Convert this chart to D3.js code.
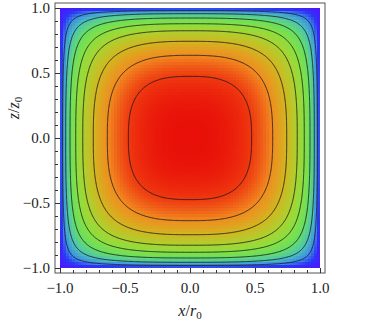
<!DOCTYPE html>
<html>
<head>
<meta charset="utf-8">
<script src="https://cdn.jsdelivr.net/npm/d3@7"></script>
<style>
  body { margin: 0; background: #fff; }
  svg { display: block; }
  text { font-family: "Liberation Serif", "Times New Roman", "DejaVu Serif", "Noto Serif", Times, serif; fill: #222; }
  .tick-label { font-size: 15px; }
  .axis-title { font-size: 16px; }
</style>
</head>
<body>
<svg id="chart"></svg>
<script>
// where each contour crosses the centre line (x or z), inner to outer
var crossings = [0.474, 0.636, 0.744, 0.825, 0.879, 0.923, 0.956, 0.979];

// colour seen at the centre line: centre, each contour (inner to outer), edge
var centreColor = "#e81008";
var contourColors = ["#ef3810", "#f08c20", "#d2b620", "#aad230", "#88e040", "#66de64", "#4cc4b4", "#3c8ce8"];
var edgeColors = ["#2c36f4", "#4a18ff"];

var majorTicks = [-1.0, -0.5, 0.0, 0.5, 1.0];
var minorTicks = d3.range(-10, 11).map(function (k) { return k / 10; });

// field model: separable, flat-topped profile, zero on the walls
var p = 2.7;
function profile(u) { return 1 - Math.pow(Math.abs(u), p); }
function field(x, z) { return profile(x) * profile(z); }

var levels = crossings.map(profile).reverse();           // ascending

var W = 381, H = 323;
var frame = { left: 55, right: 325, top: 3, bottom: 273 };
var pad = 5;

var svg = d3.select("#chart").attr("width", W).attr("height", H);

var x = d3.scaleLinear().domain([-1, 1]).range([frame.left + pad, frame.right - pad]);
var y = d3.scaleLinear().domain([-1, 1]).range([frame.bottom - pad, frame.top + pad]);

var color = d3.scaleLinear()
  .domain([0, profile(0.992)].concat(levels, [1]))
  .range([edgeColors[1], edgeColors[0]].concat(contourColors.slice().reverse(), [centreColor]))
  .interpolate(d3.interpolateRgb)
  .clamp(true);

// density raster (coarse, like the original)
var m = 87;
var canvas = document.createElement("canvas");
canvas.width = m; canvas.height = m;
var ctx = canvas.getContext("2d");
var img = ctx.createImageData(m, m);
for (var j = 0; j < m; j++) {
  for (var i = 0; i < m; i++) {
    var xv = -1 + (i + 0.5) * 2 / m;
    var zv = 1 - (j + 0.5) * 2 / m;
    var c = d3.rgb(color(field(xv, zv)));
    var k = (j * m + i) * 4;
    img.data[k] = c.r; img.data[k + 1] = c.g; img.data[k + 2] = c.b; img.data[k + 3] = 255;
  }
}
ctx.putImageData(img, 0, 0);

svg.append("image")
  .attr("x", x(-1)).attr("y", y(1))
  .attr("width", x(1) - x(-1)).attr("height", y(-1) - y(1))
  .attr("preserveAspectRatio", "none")
  .style("image-rendering", "pixelated")
  .attr("href", canvas.toDataURL());

// contour lines
var n = 301;
var values = new Array(n * n);
for (var jj = 0; jj < n; jj++) {
  for (var ii = 0; ii < n; ii++) {
    values[jj * n + ii] = field(-1 + 2 * ii / (n - 1), 1 - 2 * jj / (n - 1));
  }
}
var contours = d3.contours().size([n, n]).thresholds(levels)(values);

var gx = function (c) { return x(-1 + 2 * (c - 0.5) / (n - 1)); };
var gy = function (c) { return y(1 - 2 * (c - 0.5) / (n - 1)); };
var path = d3.geoPath(d3.geoTransform({
  point: function (px, py) { this.stream.point(gx(px), gy(py)); }
}));

svg.append("g")
  .selectAll("path")
  .data(contours)
  .enter().append("path")
  .attr("d", path)
  .attr("fill", "none")
  .attr("stroke", "#1a1a1a")
  .attr("stroke-opacity", 0.85)
  .attr("stroke-width", 1);

// frame
svg.append("rect")
  .attr("x", frame.left).attr("y", frame.top)
  .attr("width", frame.right - frame.left).attr("height", frame.bottom - frame.top)
  .attr("fill", "none").attr("stroke", "#555").attr("stroke-width", 1);

var isMajor = function (t) { return Math.abs(t * 2 - Math.round(t * 2)) < 1e-9; };

// left ticks (inward)
svg.append("g").selectAll("line")
  .data(minorTicks)
  .enter().append("line")
  .attr("x1", frame.left).attr("x2", function (t) { return frame.left + (isMajor(t) ? 5 : 3); })
  .attr("y1", function (t) { return Math.round(y(t)) + 0.5; })
  .attr("y2", function (t) { return Math.round(y(t)) + 0.5; })
  .attr("stroke", "#333").attr("stroke-width", 1);

// bottom ticks (inward)
svg.append("g").selectAll("line")
  .data(minorTicks)
  .enter().append("line")
  .attr("y1", frame.bottom).attr("y2", function (t) { return frame.bottom - (isMajor(t) ? 5 : 3); })
  .attr("x1", function (t) { return Math.round(x(t)) + 0.5; })
  .attr("x2", function (t) { return Math.round(x(t)) + 0.5; })
  .attr("stroke", "#333").attr("stroke-width", 1);

var fmt = function (t) { return (t < 0 ? "\u2212" : "") + d3.format(".1f")(Math.abs(t)); };

svg.append("g").selectAll("text")
  .data(majorTicks)
  .enter().append("text")
  .attr("class", "tick-label")
  .attr("x", frame.left - 5)
  .attr("y", function (t) { return y(t); })
  .attr("dy", "0.35em")
  .attr("text-anchor", "end")
  .text(fmt);

svg.append("g").selectAll("text")
  .data(majorTicks)
  .enter().append("text")
  .attr("class", "tick-label")
  .attr("x", function (t) { return x(t); })
  .attr("y", frame.bottom + 20)
  .attr("text-anchor", "middle")
  .text(fmt);

// axis titles
var xt = svg.append("text")
  .attr("class", "axis-title")
  .attr("x", x(0)).attr("y", 316)
  .attr("text-anchor", "middle");
xt.append("tspan").attr("font-style", "italic").text("x");
xt.append("tspan").text("/");
xt.append("tspan").attr("font-style", "italic").text("r");
xt.append("tspan").attr("font-size", "11px").attr("dy", 3).text("0");

var yt = svg.append("text")
  .attr("class", "axis-title")
  .attr("transform", "translate(19,108) rotate(-90)")
  .attr("text-anchor", "middle");
yt.append("tspan").attr("font-style", "italic").text("z");
yt.append("tspan").text("/");
yt.append("tspan").attr("font-style", "italic").text("z");
yt.append("tspan").attr("font-size", "11px").attr("dy", 3).text("0");
</script>
</body>
</html>
